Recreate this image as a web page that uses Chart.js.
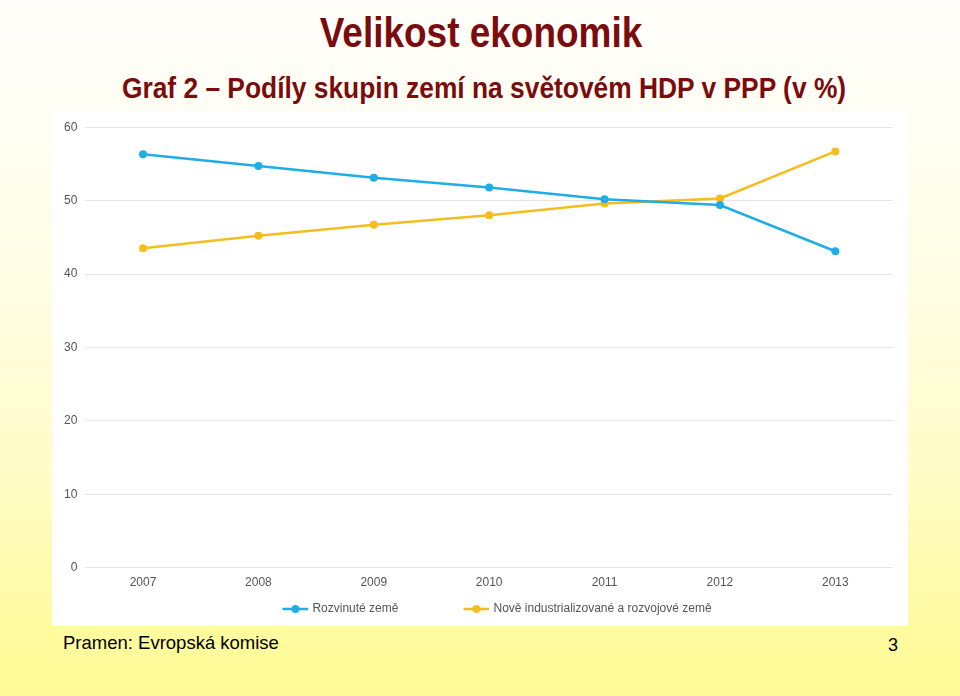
<!DOCTYPE html>
<html><head><meta charset="utf-8">
<script src="https://cdn.jsdelivr.net/npm/chart.js@4/dist/chart.umd.min.js"></script>
<style>
html,body{margin:0;padding:0;}
body{width:960px;height:696px;overflow:hidden;position:relative;
background:linear-gradient(to bottom,#fffefa 0%,#fffef2 20%,#fffde0 45%,#fffcc4 70%,#fffb9e 92%,#fffa96 100%);
font-family:"Liberation Sans",Arial,sans-serif;}
.t{position:absolute;left:0;width:960px;text-align:center;color:#7a0c0e;font-weight:bold;white-space:nowrap;}
#t1{top:10px;font-size:42px;line-height:46px;transform:translateX(1px) scaleX(0.88);}
#t2{top:71px;font-size:29px;line-height:34px;transform:translateX(4px) scaleX(0.909);}
#panel{position:absolute;left:52px;top:112px;width:856px;height:514px;background:#fff;}
#src{position:absolute;left:63px;top:632px;font-size:18.5px;color:#000;}
#pg{position:absolute;left:888px;top:635px;font-size:18px;color:#000;}
</style></head>
<body>
<div id="t1" class="t">Velikost ekonomik</div>
<div id="t2" class="t">Graf 2 – Podíly skupin zemí na světovém HDP v PPP (v %)</div>
<div id="panel"><canvas id="c" width="856" height="514"></canvas></div>
<div id="src">Pramen: Evropská komise</div>
<div id="pg">3</div>
<script>
const years = ["2007","2008","2009","2010","2011","2012","2013"];
const developed = [56.3, 54.7, 53.1, 51.8, 50.2, 49.4, 43.1];
const emerging = [43.5, 45.2, 46.7, 48.0, 49.6, 50.3, 56.7];
const seriesNames = ["Rozvinuté země", "Nově industrializované a rozvojové země"];
const colors = ["#1eade6", "#f5bd1e"];

const BOXW = 69, MW = 26, IMGW = BOXW + 4;
function marker(col){
  const c=document.createElement('canvas');c.width=IMGW;c.height=10;
  const x=c.getContext('2d');const g=IMGW-MW;
  x.strokeStyle=col;x.lineWidth=2.5;x.beginPath();x.moveTo(g,5);x.lineTo(IMGW,5);x.stroke();
  x.fillStyle=col;x.beginPath();x.arc(g+MW/2,5,4,0,Math.PI*2);x.fill();
  return c;
}
const markers = colors.map(marker);
const tickFont = {family:'"Liberation Sans",Arial',size:12};

const legendShift = {id:'legendShift', afterLayout(chart){ const l=chart.legend; if(l){ l.top -= 15; } }};

new Chart(document.getElementById('c'),{
  type:'line',
  data:{labels:years,datasets:[
    {label:seriesNames[0],data:developed,borderColor:colors[0],backgroundColor:colors[0],borderWidth:2.5,pointRadius:4,pointBackgroundColor:colors[0],pointBorderWidth:0,tension:0},
    {label:seriesNames[1],data:emerging,borderColor:colors[1],backgroundColor:colors[1],borderWidth:2.5,pointRadius:4,pointBackgroundColor:colors[1],pointBorderWidth:0,tension:0}
  ]},
  plugins:[legendShift],
  options:{
    responsive:false,animation:false,devicePixelRatio:1,
    layout:{padding:{left:4,right:15,top:6,bottom:0}},
    plugins:{
      tooltip:{enabled:false},
      legend:{position:'bottom',maxHeight:28,labels:{
        usePointStyle:true,pointStyleWidth:BOXW,color:'#555',font:tickFont,padding:20,
        generateLabels:(ch)=>ch.data.datasets.map((d,i)=>({text:d.label,fillStyle:colors[i],strokeStyle:colors[i],pointStyle:markers[i],fontColor:'#555',datasetIndex:i,hidden:false,lineWidth:0}))
      }}
    },
    scales:{
      x:{offset:true,grid:{display:false,drawTicks:false},border:{display:false},
         ticks:{color:'#555',font:tickFont,padding:8}},
      y:{min:0,max:60,grid:{color:'#e6e6e6',drawTicks:false},border:{display:false},
         ticks:{stepSize:10,color:'#555',font:tickFont,padding:8}}
    }
  }
});
</script>
</body></html>
